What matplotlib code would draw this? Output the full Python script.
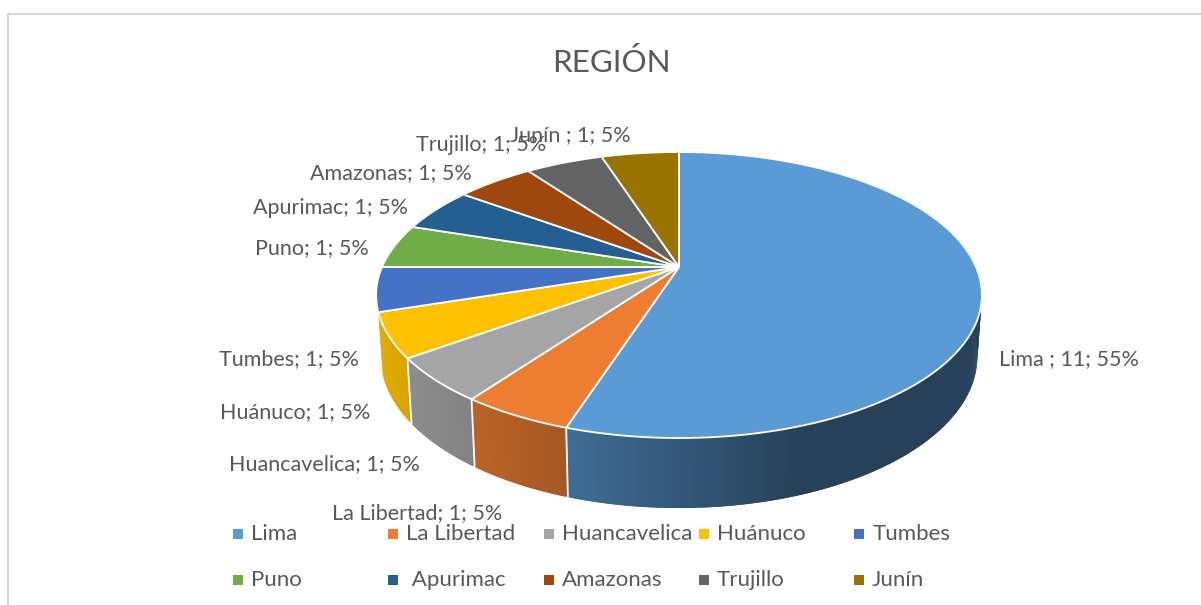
import numpy as np
import matplotlib
matplotlib.use('Agg')
import matplotlib.pyplot as plt

#datos
regiones=['Lima ','La Libertad','Huancavelica','Huánuco','Tumbes','Puno','Apurimac','Amazonas','Trujillo','Junín ']
leyenda=['Lima','La Libertad','Huancavelica','Huánuco','Tumbes','Puno',' Apurimac','Amazonas','Trujillo','Junín']
valores=[11,1,1,1,1,1,1,1,1,1]
colores=['#5B9BD5','#ED7D31','#A5A5A5','#FFC000','#4472C4','#70AD47','#255E91','#9E480E','#636363','#997300']
titulo='REGIÓN'

#posicion de las etiquetas (izquierda, centro vertical) en pixeles
pos_etiquetas=[(999,359),(332,513),(229,464),(220,412),(219,359),(255,248),(253,208),(310,173),(416,145),(510,135)]

#geometria de la tarta en perspectiva
cx=679; cy=267
R=297; S=137.5; k=0.196

def borde(ang):
    #ang en radianes, horario desde arriba
    u=np.sin(ang); v=np.cos(ang)
    w=1+k*v
    return cx+R*u/w, cy-S*v/w

def borde_inf(ang):
    x,y=borde(ang)
    prof=60+(y-cy)/171*10
    return cx+0.985*(x-cx), y+prof

def sombra(x):
    return np.interp(x,[380,567,800],[0.88,0.70,0.42])

fig=plt.figure(figsize=(12.01,6.05),dpi=100)
ax=fig.add_axes([0,0,1,1])
ax.set_xlim(0,1201); ax.set_ylim(605,0)
ax.axis('off')

plt.rcParams['font.family']=['Lato','DejaVu Sans']

#marco del grafico
ax.plot([8,8,1201],[605,14,14],color='#D9D9D9',lw=1.5)

ax.text(611,62,titulo,ha='center',va='center',fontsize=22.6,color='#595959')

total=sum(valores)
limites=2*np.pi*np.cumsum([0]+valores)/total

#cara lateral (solo la parte delantera se ve)
a_min=np.radians(64); a_max=limites[4]
for i in range(len(valores)):
    a0=max(limites[i],a_min); a1=min(limites[i+1],a_max)
    if a1<=a0:
        continue
    t=np.linspace(a0,a1,max(int((a1-a0)*120),3))
    base=np.array(matplotlib.colors.to_rgb(colores[i]))
    #cada tira pisa a la siguiente para que no queden rayas
    for j in range(len(t)-1):
        fin=min(j+2,len(t)-1)
        x0,y0=borde(t[j]); x1,y1=borde(t[fin])
        x2,y2=borde_inf(t[fin]); x3,y3=borde_inf(t[j])
        c=base*sombra((x0+x1)/2)
        ax.fill([x0,x1,x2,x3],[y0,y1,y2,y3],color=c,lw=0,zorder=2)
    #separacion blanca entre porciones
    if limites[i+1]<a_max:
        x0,y0=borde(limites[i+1]); x1,y1=borde_inf(limites[i+1])
        ax.plot([x0,x1],[y0,y1],color='white',lw=1.3,zorder=3)

#cara superior
for i in range(len(valores)):
    t=np.linspace(limites[i],limites[i+1],int((limites[i+1]-limites[i])*60)+2)
    x,y=borde(t)
    ax.fill(np.r_[cx,x],np.r_[cy,y],facecolor=colores[i],edgecolor='white',lw=1.3,zorder=4)

#etiquetas
for i in range(len(valores)):
    pct=round(100*valores[i]/total)
    ax.text(pos_etiquetas[i][0],pos_etiquetas[i][1],f'{regiones[i]}; {valores[i]}; {pct}%',
            ha='left',va='center',fontsize=15.5,color='#595959',zorder=6)

#leyenda
for i in range(len(leyenda)):
    fila=i//5; col=i%5
    xl=238+155.3*col; yl=534+46*fila
    ax.scatter([xl],[yl],marker='s',s=48,color=colores[i],zorder=6,linewidths=0)
    ax.text(xl+13,yl,leyenda[i],ha='left',va='center',fontsize=16,color='#595959',zorder=6)

fig.savefig('out.png',dpi=100)
